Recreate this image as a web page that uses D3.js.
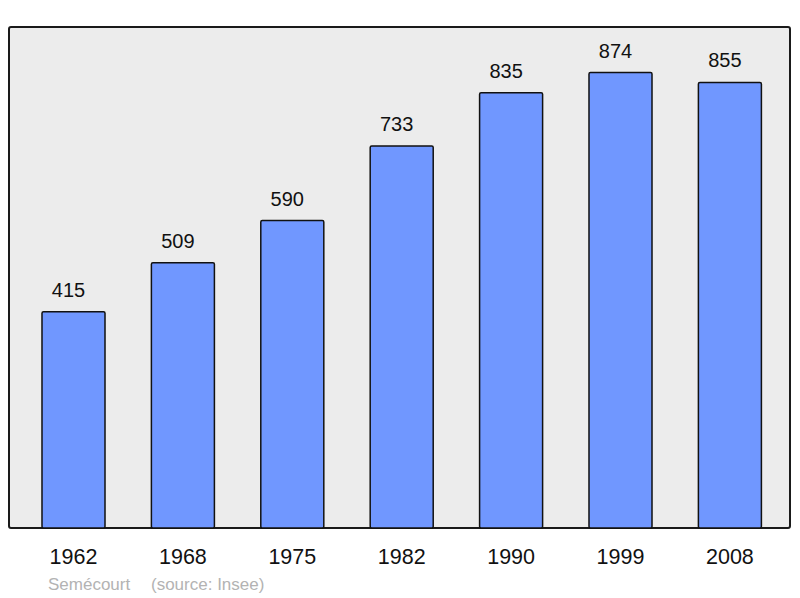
<!DOCTYPE html>
<html>
<head>
<meta charset='UTF-8'>
<title>Population</title>
<script src='https://cdn.jsdelivr.net/npm/d3@7'></script>
<style>
  body {margin:0; background:#fff;}
  text {font-family:'Liberation Sans', Arial, sans-serif;}
</style>
</head>
<body>
<div id='chart'></div>
<script>
var years = ['1962', '1968', '1975', '1982', '1990', '1999', '2008'];
var population = [415, 509, 590, 733, 835, 874, 855];
var commune = 'Semécourt';
var source = '(source: Insee)';

var width = 800;
var height = 598;
var panel = {left: 9, top: 27, right: 790, bottom: 528};

var svg = d3.select('#chart').append('svg')
  .attr('width', width)
  .attr('height', height);

/* Scale */
var x = d3.scaleBand()
  .domain(years)
  .range([18.8, 784.6])
  .paddingInner(0.424)
  .paddingOuter(0.212);

var y = d3.scaleLinear()
  .domain([0, d3.max(population) * 1.1])
  .range([panel.bottom, panel.top]);

/* Panel */
svg.append('rect')
  .attr('x', panel.left)
  .attr('y', panel.top)
  .attr('width', panel.right - panel.left)
  .attr('height', panel.bottom - panel.top)
  .attr('rx', 2)
  .attr('fill', '#ececec')
  .attr('stroke', '#1a1a1a')
  .attr('stroke-width', 2);

/* Bars */
var data = years.map((d, i) => ({year: d, value: population[i]}));

svg.append('g').selectAll('rect')
  .data(data).enter()
  .append('rect')
  .attr('x', d => x(d.year))
  .attr('y', d => y(d.value))
  .attr('width', x.bandwidth())
  .attr('height', d => y(0) - y(d.value))
  .attr('rx', 1.5)
  .attr('fill', '#7097ff')
  .attr('stroke', '#111')
  .attr('stroke-width', 1.5);

/* Value labels */
svg.append('g').selectAll('text')
  .data(data).enter()
  .append('text')
  .attr('x', d => x(d.year) + x.bandwidth() / 2 - 5)
  .attr('y', d => y(d.value) - 15)
  .attr('text-anchor', 'middle')
  .attr('font-size', 20)
  .attr('fill', '#111')
  .text(d => d.value);

/* Year axis */
var xAxis = d3.axisBottom(x).tickSize(0).tickPadding(0);
var gx = svg.append('g')
  .attr('transform', `translate(0, ${panel.bottom})`)
  .call(xAxis);
gx.select('.domain').remove();
gx.selectAll('text')
  .attr('dy', null)
  .attr('y', 36)
  .attr('font-size', 21.5)
  .attr('font-family', "'Liberation Sans', Arial, sans-serif")
  .attr('fill', '#111');

/* Footer */
svg.append('text')
  .attr('x', 48)
  .attr('y', 590)
  .attr('font-size', 17)
  .attr('fill', '#b3b3b3')
  .text(commune);
svg.append('text')
  .attr('x', 151)
  .attr('y', 590)
  .attr('font-size', 17)
  .attr('fill', '#b3b3b3')
  .text(source);
</script>
</body>
</html>
